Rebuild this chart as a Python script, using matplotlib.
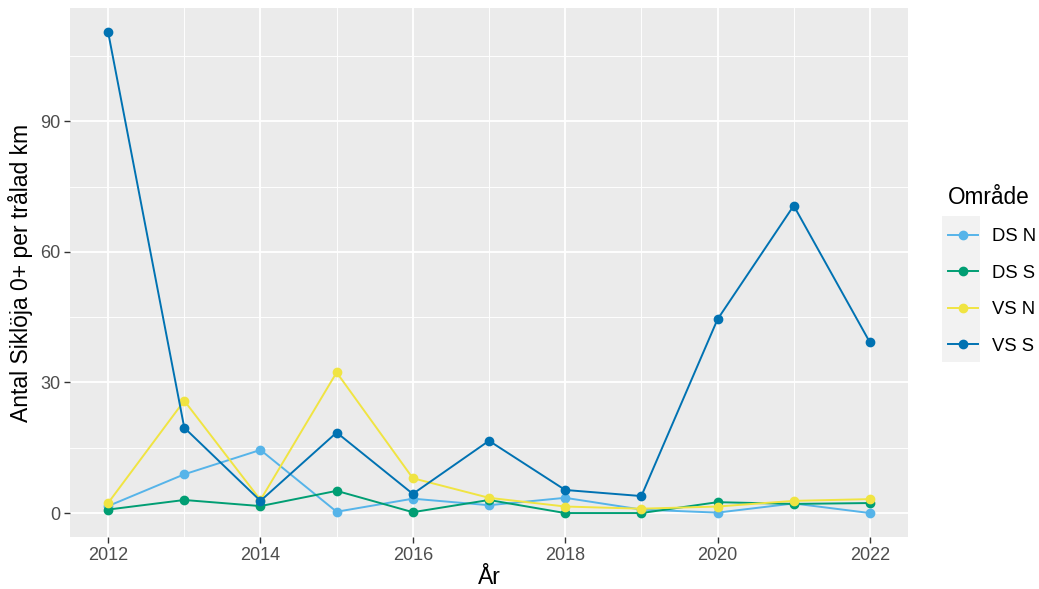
import matplotlib
matplotlib.use("Agg")
import matplotlib.pyplot as plt
from matplotlib.patches import Rectangle
from matplotlib.ticker import MultipleLocator

plt.rcParams['font.family'] = ['Liberation Sans', 'DejaVu Sans']

# === Data ===
years = [2012, 2013, 2014, 2015, 2016, 2017, 2018, 2019, 2020, 2021, 2022]

ds_n = [1.6, 8.9, 14.5, 0.3, 3.3, 1.8, 3.5, 0.8, 0.1, 2.2, 0.0]
ds_s = [0.8, 3.0, 1.6, 5.1, 0.2, 3.0, 0.0, 0.0, 2.5, 2.1, 2.3]
vs_n = [2.3, 25.8, 3.0, 32.3, 8.0, 3.5, 1.5, 1.0, 1.5, 2.8, 3.2]
vs_s = [110.5, 19.6, 2.8, 18.5, 4.4, 16.6, 5.3, 3.9, 44.5, 70.6, 39.2]

series = [("DS N", ds_n, "#56B4E9"),
          ("DS S", ds_s, "#009E73"),
          ("VS N", vs_n, "#F0E442"),
          ("VS S", vs_s, "#0072B2")]

fig = plt.figure(figsize=(10.39, 5.89), dpi=100)
ax = fig.add_axes([70 / 1039, 52 / 589, 838 / 1039, 529 / 589])
ax.set_facecolor("#EBEBEB")

for name, vals, col in series:
    ax.plot(years, vals, "-o", color=col, lw=1.4, ms=6, label=name, zorder=3)

ax.set_xlim(2011.5, 2022.5)
ax.set_ylim(-5.5, 116)
ax.xaxis.set_major_locator(MultipleLocator(2))
ax.xaxis.set_minor_locator(MultipleLocator(1))
ax.yaxis.set_major_locator(MultipleLocator(30))
ax.yaxis.set_minor_locator(MultipleLocator(15))
ax.grid(which="major", color="white", lw=1.3)
ax.grid(which="minor", color="white", lw=0.65)
ax.set_axisbelow(True)
for s in ax.spines.values():
    s.set_visible(False)
ax.tick_params(which="major", length=4, width=1, color="#333333",
               labelsize=13, labelcolor="#4D4D4D", pad=3)
ax.tick_params(which="minor", length=0)

ax.set_xlabel("År", fontsize=16.5, labelpad=2)
ax.set_ylabel("Antal Siklöja 0+ per trålad km", fontsize=16.5, labelpad=5)

# legend key background like ggplot
fig.patches.append(Rectangle((942 / 1039, 1 - 362 / 589), 38 / 1039, 146 / 589,
                             transform=fig.transFigure, facecolor="#F2F2F2",
                             edgecolor="none", zorder=0))
leg = fig.legend(loc="upper left", bbox_to_anchor=(931 / 1039, 1 - 169 / 589),
                 frameon=False, fontsize=13.3, title="Område", title_fontsize=16.3,
                 handlelength=1.65, labelspacing=1.06, handletextpad=0.75,
                 alignment="left")

fig.savefig("out.png", dpi=100)
